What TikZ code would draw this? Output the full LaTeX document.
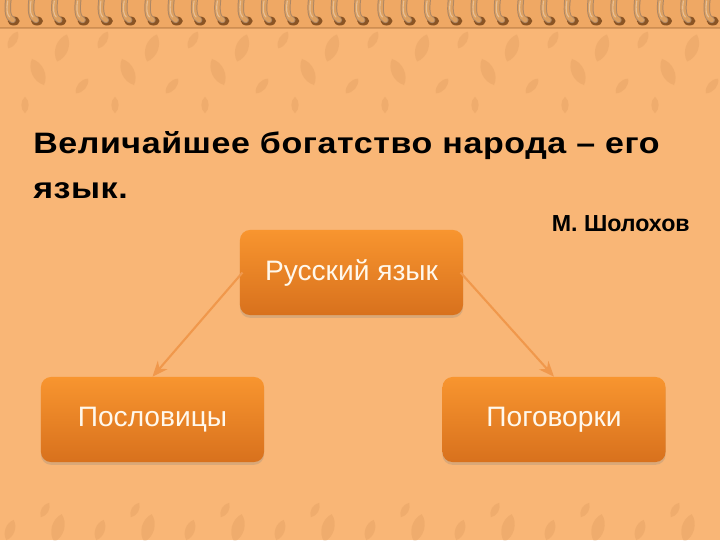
\documentclass[tikz,border=0pt]{standalone}
\usepackage{fontspec}
\setmainfont{Liberation Sans}
\newfontfamily\quotefont[FakeStretch=1.15,LetterSpace=2]{Liberation Sans}
\usetikzlibrary{arrows.meta,shadows}

\definecolor{bgpeach}{HTML}{F9B676}
\definecolor{bandcol}{HTML}{EFA864}
\definecolor{wirecol}{HTML}{DDA060}
\definecolor{holecol}{HTML}{8A5424}
\definecolor{leafcol}{HTML}{B7763A}
\definecolor{boxtop}{HTML}{F8952F}
\definecolor{boxbot}{HTML}{D8711D}
\definecolor{boxtext}{HTML}{FFF8EC}
\definecolor{arrowcol}{HTML}{F0984C}

\begin{document}
\begin{tikzpicture}[x=0.025cm,y=-0.025cm,
    box/.style={rounded corners=0.25cm, minimum width=5.575cm, minimum height=2.125cm,
        top color=boxtop, bottom color=boxbot, text=boxtext,
        font=\fontsize{20}{24}\selectfont,
        drop shadow={opacity=0.25, shadow xshift=0pt, shadow yshift=-2pt}},
    link/.style={draw=arrowcol, line width=1.5pt, -{Stealth[length=11pt,width=9pt,inset=3.5pt]}},
    leaf/.style={fill=leafcol, opacity=0.14}]

    % background
    \fill[bgpeach] (0,0) rectangle (720,540);
    \useasboundingbox (0,0) rectangle (720,540);

    % faint leaves
    \foreach \tx in {0,90,...,720} {
        \foreach \lx/\ly/\ls/\lr in {13/40/0.8/-30, 62/48/1.2/-20, 38/72/1.2/25,
                                     82/86/0.8/-40, 25/105/0.7/0,
                                     10/530/0.9/-20, 45/510/0.7/-30, 58/528/1.2/-15} {
            \fill[leaf, shift={(\tx+\lx,\ly)}, rotate=\lr, scale=\ls]
                (0,-12) .. controls (7,-6) and (7,6) .. (0,12)
                        .. controls (-7,6) and (-7,-6) .. (0,-12);
        }
    }

    % spiral binding
    \fill[bandcol] (0,0) rectangle (720,28);
    \draw[holecol, opacity=0.3, line width=0.8pt] (0,28) -- (720,28);
    \foreach \i in {0,...,30} {
        \pgfmathsetmacro\cx{11.7+23.3*\i}
        \fill[holecol] (\cx+2,21) ellipse (6 and 4.5);
        \draw[holecol!70, line width=4.6pt, line cap=round]
            (\cx-3,-3) .. controls (\cx-5,10) and (\cx-4,18) .. (\cx+1,20);
        \draw[wirecol, line width=3.2pt, line cap=round]
            (\cx-3,-3) .. controls (\cx-5,10) and (\cx-4,18) .. (\cx+1,20);
        \draw[white, opacity=0.35, line width=0.8pt, line cap=round]
            (\cx-4,1) .. controls (\cx-5.5,10) and (\cx-4.5,15) .. (\cx-2,17);
    }

    % quotation
    \node[anchor=base west, inner sep=0pt, font=\quotefont\bfseries\fontsize{21}{25}\selectfont] (title1)
        at (33,153) {Величайшее богатство народа – его};
    \node[anchor=base west, inner sep=0pt, font=\quotefont\bfseries\fontsize{21}{25}\selectfont] (title2)
        at (33,198) {язык.};
    \node[anchor=base east, inner sep=0pt, font=\bfseries\fontsize{16.5}{19}\selectfont] (author)
        at (690,231) {М. Шолохов};

    % boxes
    \node[box] (rus) at (351.5,272.5) {Русский язык};
    \node[box] (posl) at (152.5,419.5) {Пословицы};
    \node[box] (pog) at (554,419.5) {Поговорки};

    \draw[link] ([xshift=2pt]rus.west) -- (posl.north);
    \draw[link] ([xshift=-2pt]rus.east) -- (pog.north);

\end{tikzpicture}
\end{document}
